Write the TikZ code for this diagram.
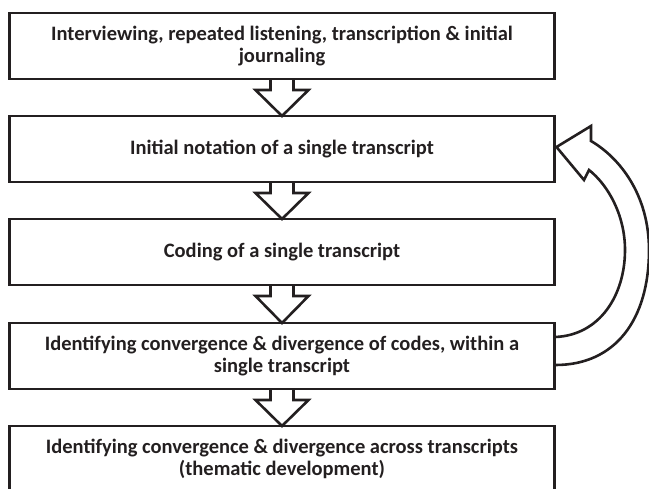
\documentclass[tikz,border=0pt]{standalone}
\usepackage{fontspec}
\setmainfont{Carlito}
\usetikzlibrary{calc}
\definecolor{ink}{RGB}{35,31,32}
\tikzset{
  stepbox/.style={draw=ink, line width=2.6pt, outer sep=0pt, minimum width=545pt,
    minimum height=66pt, inner sep=0pt, align=center, text=ink,
    font=\fontsize{20.5}{22}\selectfont\bfseries},
  blockarrow/.style={draw=ink, line width=2.6pt, line join=miter, miter limit=10},
}
\newcommand{\downarrowblk}[2]{%
  \draw[blockarrow] ($(#1.south)+(-11.5,0)$) -- ($(#1.south)+(-11.5,11)$)
    -- ($(#1.south)+(-26.5,11)$) -- (#2.north) -- ($(#1.south)+(26.5,11)$)
    -- ($(#1.south)+(11.5,11)$) -- ($(#1.south)+(11.5,0)$);}
\begin{document}
\begin{tikzpicture}[x=1pt,y=-1pt]
\useasboundingbox (0,0) rectangle (649,489);
\node[stepbox] (b1) at (282,46) {Interviewing, repeated listening, transcription \& initial\\journaling};
\node[stepbox] (b2) at (282,149) {Initial notation of a single transcript};
\node[stepbox] (b3) at (282,252) {Coding of a single transcript};
\node[stepbox] (b4) at (282,356) {Identifying convergence \& divergence of codes, within a\\single transcript};
\node[stepbox] (b5) at (282,459) {Identifying convergence \& divergence across transcripts\\(thematic development)};
\downarrowblk{b1}{b2}
\downarrowblk{b2}{b3}
\downarrowblk{b3}{b4}
\downarrowblk{b4}{b5}
% curved return arrow
\coordinate (tip) at ($(b2.east)+(2,-2)$);
\coordinate (ub) at ($(b2.east)+(36.5,-23)$);
\coordinate (us) at ($(b2.east)+(36.5,-8)$);
\coordinate (oc2) at ($(b2.east)+(65.5,9)$);
\coordinate (oc1) at ($(b2.east)+(94.5,46)$);
\coordinate (omid) at ($(b2.east)+(94.5,101)$);
\coordinate (lb) at ($(b2.east)+(29.5,31)$);
\coordinate (ls) at ($(b2.east)+(34.5,21)$);
\coordinate (ic1) at ($(b2.east)+(53.5,36)$);
\coordinate (ic2) at ($(b2.east)+(70.5,66)$);
\coordinate (imid) at ($(b2.east)+(70.5,101)$);
\coordinate (oend) at ($(b4.east)+(1,9)$);
\coordinate (oc3) at ($(b4.east)+(60.5,9)$);
\coordinate (oc4) at ($(b4.east)+(94.5,-36)$);
\coordinate (iend) at ($(b4.east)+(1,-19)$);
\coordinate (ic3) at ($(b4.east)+(70.5,-61)$);
\coordinate (ic4) at ($(b4.east)+(45.5,-21)$);
\draw[blockarrow] (oend) .. controls (oc3) and (oc4) .. (omid)
  .. controls (oc1) and (oc2) .. (us) -- (ub) -- (tip) -- (lb) -- (ls)
  .. controls (ic1) and (ic2) .. (imid) .. controls (ic3) and (ic4) .. (iend);
\end{tikzpicture}
\end{document}
